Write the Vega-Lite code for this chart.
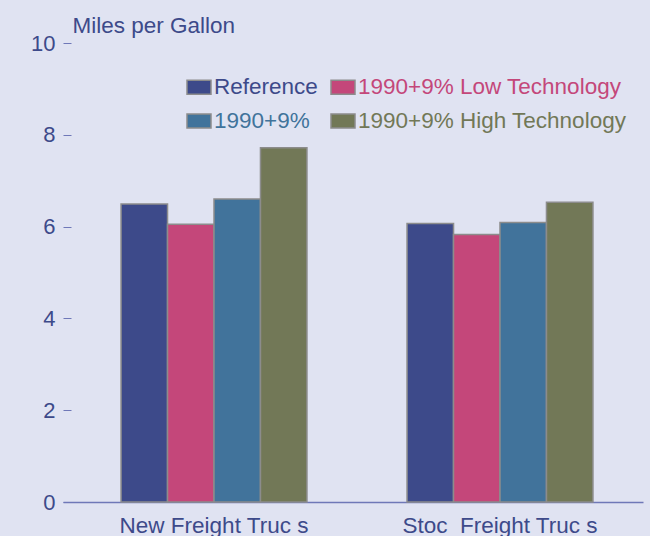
{
  "$schema": "https://vega.github.io/schema/vega-lite/v6.json",
  "width": 580,
  "height": 459,
  "autosize": {"type": "none"},
  "padding": {"left": 63, "top": 43, "right": 7, "bottom": 34},
  "background": "#e0e3f2",
  "config": {"view": {"stroke": null}, "font": "Liberation Sans"},
  "data": {
    "values": [
      {"category": "New Freight Truc s", "case": "Reference", "mpg": 6.49},
      {"category": "New Freight Truc s", "case": "1990+9% Low Technology", "mpg": 6.05},
      {"category": "New Freight Truc s", "case": "1990+9%", "mpg": 6.60},
      {"category": "New Freight Truc s", "case": "1990+9% High Technology", "mpg": 7.72},
      {"category": "Stoc\u00a0 Freight Truc s", "case": "Reference", "mpg": 6.07},
      {"category": "Stoc\u00a0 Freight Truc s", "case": "1990+9% Low Technology", "mpg": 5.83},
      {"category": "Stoc\u00a0 Freight Truc s", "case": "1990+9%", "mpg": 6.09},
      {"category": "Stoc\u00a0 Freight Truc s", "case": "1990+9% High Technology", "mpg": 6.53}
    ]
  },
  "mark": {"type": "bar", "stroke": "#8c8c8c", "strokeWidth": 1.5},
  "encoding": {
    "x": {
      "field": "category",
      "type": "nominal",
      "sort": ["New Freight Truc s", "Stoc\u00a0 Freight Truc s"],
      "scale": {"paddingInner": 0.35, "paddingOuter": 0.189, "align": 0.537},
      "axis": {
        "title": null,
        "labelAngle": 0,
        "labelFontSize": 22.5,
        "labelLimit": 400,
        "labelColor": "#3d4a8a",
        "ticks": false,
        "labelPadding": 12,
        "domainColor": "#6f78b8",
        "domainWidth": 1.5
      }
    },
    "xOffset": {
      "field": "case",
      "type": "nominal",
      "sort": ["Reference", "1990+9% Low Technology", "1990+9%", "1990+9% High Technology"],
      "scale": {"paddingInner": 0, "paddingOuter": 0}
    },
    "y": {
      "field": "mpg",
      "type": "quantitative",
      "scale": {"domain": [0, 10]},
      "axis": {
        "values": [0, 2, 4, 6, 8, 10],
        "grid": false,
        "domain": false,
        "offset": -8,
        "tickSize": 8,
        "tickColor": "#6f78b8",
        "labelFontSize": 22,
        "labelColor": "#3d4a8a",
        "labelPadding": 8,
        "title": "Miles per Gallon",
        "titleAngle": 0,
        "titleAlign": "left",
        "titleBaseline": "alphabetic",
        "titleX": 1,
        "titleY": -11,
        "titleFontSize": 22.5,
        "titleFontWeight": "normal",
        "titleColor": "#3d4a8a"
      }
    },
    "color": {
      "field": "case",
      "type": "nominal",
      "scale": {
        "domain": ["Reference", "1990+9%", "1990+9% Low Technology", "1990+9% High Technology"],
        "range": ["#3d4a8a", "#41739b", "#c4477a", "#727857"]
      },
      "legend": {
        "title": null,
        "orient": "none",
        "legendX": 123,
        "legendY": 31,
        "columns": 2,
        "columnPadding": 10,
        "rowPadding": 9,
        "symbolType": "M-1,-0.58H1V0.58H-1Z",
        "symbolSize": 576,
        "symbolStrokeColor": "#8c8c8c",
        "symbolStrokeWidth": 1.5,
        "symbolOpacity": 1,
        "labelFontSize": 22.5,
        "labelOffset": 2,
        "labelLimit": 400,
        "encode": {
          "labels": {"update": {"fill": {"signal": "scale('color', datum.value)"}}}
        }
      }
    }
  }
}
